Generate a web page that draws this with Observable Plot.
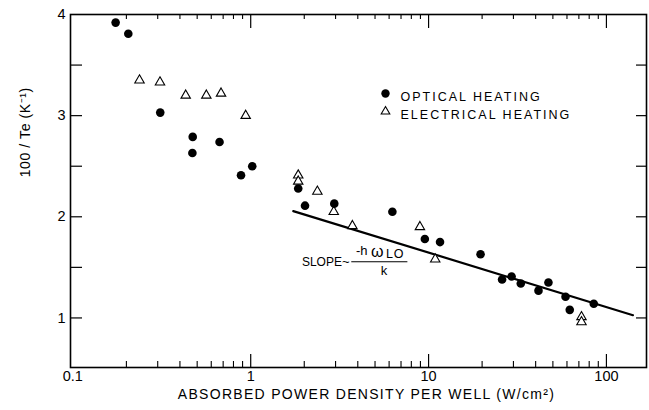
<!DOCTYPE html>
<html><head><meta charset="utf-8">
<script src="https://cdn.jsdelivr.net/npm/d3@7"></script>
<script src="https://cdn.jsdelivr.net/npm/@observablehq/plot@0.6"></script>
<style>
body{margin:0;background:#fff;}
svg text{font-family:"Liberation Sans",Arial,sans-serif;}
</style></head><body><div id="chart"></div>
<script>
// Optical heating (filled circles)
const opticalPower = [0.174, 0.205, 0.31, 0.472, 0.470, 0.668, 0.882, 1.02, 1.85, 2.02, 2.95, 6.26, 9.53, 11.6, 19.6, 25.9, 29.3, 33.0, 41.5, 47.2, 58.9, 62.2, 84.9];
const opticalInvTe = [3.92, 3.81, 3.03, 2.79, 2.63, 2.74, 2.41, 2.50, 2.28, 2.11, 2.13, 2.05, 1.78, 1.75, 1.63, 1.38, 1.41, 1.34, 1.27, 1.35, 1.21, 1.08, 1.14];
// Electrical heating (open triangles)
const electricalPower = [0.237, 0.309, 0.431, 0.563, 0.681, 0.937, 1.85, 1.85, 2.37, 2.93, 3.73, 8.94, 10.9, 72.4, 72.4];
const electricalInvTe = [3.35, 3.33, 3.20, 3.20, 3.22, 3.00, 2.41, 2.35, 2.25, 2.05, 1.91, 1.90, 1.58, 1.01, 0.96];
// Fitted line
const fitPower = [1.735, 141];
const fitInvTe = [2.056, 1.027];
// Axis ticks
const xTickValues = [0.1, 1, 10, 100];
const xTickLabels = ["0.1", "1", "10", "100"];
const yTickValues = [1, 2, 3, 4];
const yTickLabels = ["1", "2", "3", "4"];
const yHalfTicks = [1.5, 2.5, 3.5];
const legendLabels = ["OPTICAL HEATING", "ELECTRICAL HEATING"];
const xLabel = "ABSORBED POWER DENSITY PER WELL (W/cm²)";
const yLabel = "100 / Te (K⁻¹)";

const W = 649, H = 410, mL = 70, mR = 3, mT = 14, mB = 43;
const fh = H - mT - mB, fw = W - mL - mR;

const optical = opticalPower.map((x, i) => ({x, y: opticalInvTe[i]}));
const electrical = electricalPower.map((x, i) => ({x, y: electricalInvTe[i]}));
const fit = fitPower.map((x, i) => ({x, y: fitInvTe[i]}));
const minorX = [];
for (const dec of [0.1, 1, 10]) for (let k = 2; k <= 9; k++) minorX.push(+(dec * k).toPrecision(3));
const majorX = xTickValues.slice(1);
const allY = yTickValues.concat(yHalfTicks).filter(d => d < 4);

// annotation anchors (data space)
const slopeAt = {x: 1.94, y: 1.55};
const barAt = {x1: 3.70, x2: 7.65, y: 1.556};
const yLabelAt = 2.39;

const plot = Plot.plot({
  width: W, height: H,
  marginLeft: mL, marginRight: mR, marginTop: mT, marginBottom: mB,
  x: {type: "log", domain: [0.097, 168], axis: null},
  y: {domain: [0.51, 4.0], axis: null},
  style: {background: "white", color: "black", fontFamily: "Liberation Sans, Arial, sans-serif"},
  marks: [
    Plot.frame({stroke: "black", strokeWidth: 1.6}),
    Plot.tickX(majorX, {x: d => d, insetTop: fh - 13, stroke: "black", strokeWidth: 1.2}),
    Plot.tickX(minorX, {x: d => d, insetTop: fh - 6, stroke: "black", strokeWidth: 1.1}),
    Plot.tickX(majorX, {x: d => d, insetBottom: fh - 14, stroke: "black", strokeWidth: 1.2}),
    Plot.tickX(minorX, {x: d => d, insetBottom: fh - 5, stroke: "black", strokeWidth: 1.1}),
    Plot.tickY(allY, {y: d => d, insetRight: fw - 12, stroke: "black", strokeWidth: 1.2}),
    Plot.tickY(allY, {y: d => d, insetLeft: fw - 10, stroke: "black", strokeWidth: 1.2}),
    Plot.axisX(xTickValues, {tickSize: 0, tickPadding: 3, fontSize: 14, tickFormat: d => xTickLabels[xTickValues.indexOf(d)], label: null}),
    Plot.axisY(yTickValues, {tickSize: 0, tickPadding: 5, fontSize: 15, tickFormat: d => yTickLabels[yTickValues.indexOf(d)], label: null}),
    Plot.text([xLabel], {frameAnchor: "bottom", dy: 31, dx: 8, fontSize: 14}),
    Plot.text([yLabel], {y: () => yLabelAt, frameAnchor: "left", rotate: -90, dx: -45, fontSize: 14}),
    Plot.line(fit, {x: "x", y: "y", stroke: "black", strokeWidth: 2.2}),
    Plot.dot(electrical, {x: "x", y: "y", symbol: "triangle", r: 3.5, fill: "white", stroke: "black", strokeWidth: 1.1}),
    Plot.dot(optical, {x: "x", y: "y", r: 4.3, fill: "black", stroke: "none"}),
    // legend
    Plot.dot([legendLabels[0]], {frameAnchor: "top-left", dx: 315, dy: 79, r: 4.2, fill: "black"}),
    Plot.dot([legendLabels[1]], {frameAnchor: "top-left", dx: 315, dy: 97, symbol: "triangle", r: 3.2, fill: "white", stroke: "black", strokeWidth: 1.1}),
    Plot.text([legendLabels[0]], {frameAnchor: "top-left", dx: 330, dy: 78, textAnchor: "start", fontSize: 12.5}),
    Plot.text([legendLabels[1]], {frameAnchor: "top-left", dx: 330, dy: 96, textAnchor: "start", fontSize: 12.5}),
    // slope annotation
    Plot.text(["SLOPE"], {x: slopeAt.x, y: slopeAt.y, textAnchor: "start", fontSize: 12}),
    Plot.text(["~"], {x: slopeAt.x, y: slopeAt.y, dx: 40, dy: 0, textAnchor: "start", fontSize: 13}),
    Plot.text(["-h"], {x: slopeAt.x, y: slopeAt.y, dx: 54, dy: -11, textAnchor: "start", fontSize: 13}),
    Plot.text(["ω"], {x: slopeAt.x, y: slopeAt.y, dx: 69, dy: -10, textAnchor: "start", fontSize: 16}),
    Plot.text(["LO"], {x: slopeAt.x, y: slopeAt.y, dx: 84, dy: -8, textAnchor: "start", fontSize: 12.5}),
    Plot.text(["k"], {x: slopeAt.x, y: slopeAt.y, dx: 82, dy: 9, textAnchor: "middle", fontSize: 13}),
    Plot.ruleY([barAt.y], {x1: barAt.x1, x2: barAt.x2, stroke: "black", strokeWidth: 1.1})
  ]
});
// text styling (font sizes / letter spacing)
const styleFor = {
  [xLabel]: {size: "14px", ls: "1.3px"},
  [yLabel]: {size: "14px", ls: "0.6px"},
  [legendLabels[0]]: {size: "12.5px", ls: "2px"},
  [legendLabels[1]]: {size: "12.5px", ls: "2px"},
  "LO": {size: "12.5px", ls: "1px"}
};
d3.select(plot).selectAll("text").each(function() {
  const t = this.textContent;
  const s = styleFor[t];
  if (s) d3.select(this).style("font-size", s.size).style("letter-spacing", s.ls);
  else if (xTickLabels.includes(t) || yTickLabels.includes(t)) d3.select(this).style("font-size", "14.5px");
});
document.getElementById("chart").appendChild(plot);
</script></body></html>
